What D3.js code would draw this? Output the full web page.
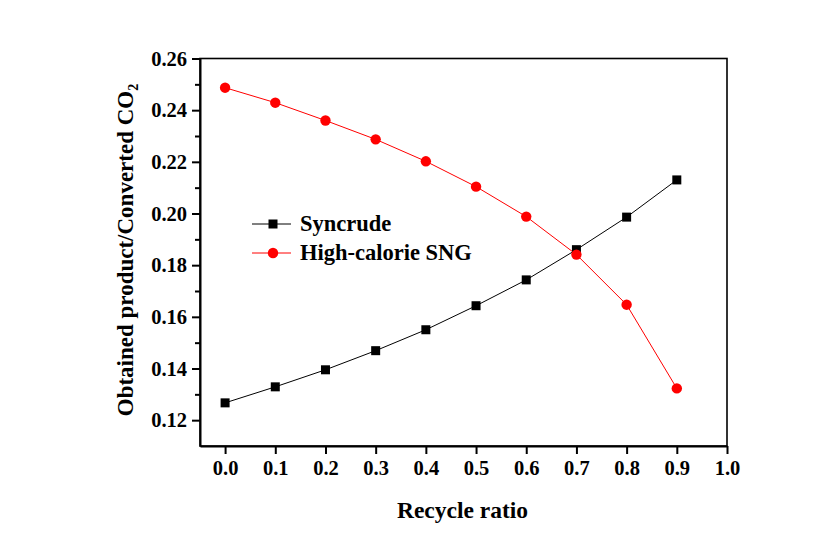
<!DOCTYPE html>
<html>
<head>
<meta charset="utf-8">
<script src="https://cdn.jsdelivr.net/npm/d3@7"></script>
<style>
  html, body { margin: 0; padding: 0; background: #fff; }
  text { font-family: "Liberation Serif", "Times New Roman", serif; font-weight: bold; fill: #000; }
</style>
</head>
<body>
<svg id="chart" width="818" height="541"></svg>
<script>
const recycleRatio = [0.0, 0.1, 0.2, 0.3, 0.4, 0.5, 0.6, 0.7, 0.8, 0.9];
const syncrude     = [0.1267, 0.1329, 0.1395, 0.1469, 0.1550, 0.1643, 0.1743, 0.1860, 0.1986, 0.2130];
const highCalorieSNG = [0.2487, 0.2429, 0.2360, 0.2287, 0.2202, 0.2104, 0.1988, 0.1841, 0.1647, 0.1323];
const xTicks = [0.0, 0.1, 0.2, 0.3, 0.4, 0.5, 0.6, 0.7, 0.8, 0.9, 1.0];
const yTicks = [0.12, 0.14, 0.16, 0.18, 0.20, 0.22, 0.24, 0.26];
const yMinorTicks = [0.13, 0.15, 0.17, 0.19, 0.21, 0.23, 0.25];
const seriesNames = ["Syncrude", "High-calorie SNG"];

(function () {
const svg = d3.select("#chart");
const pl = 200, pr = 727, pt = 58.5, pb = 446;

const x = d3.scaleLinear().domain([-0.05, 1.0]).range([pl, pr]);
const y = d3.scaleLinear().domain([0.11, 0.26]).range([pb, pt]);

// frame
svg.append("rect")
  .attr("x", pl).attr("y", pt)
  .attr("width", pr - pl).attr("height", pb - pt)
  .attr("fill", "none").attr("stroke", "#000").attr("stroke-width", 1.6);

// x axis
const xAxis = d3.axisBottom(x).tickValues(xTicks).tickFormat(d3.format(".1f"))
  .tickSize(8).tickSizeOuter(0).tickPadding(6);
const gx = svg.append("g").attr("transform", `translate(0,${pb})`).call(xAxis);
gx.select(".domain").attr("stroke-width", 2);
gx.selectAll(".tick line").attr("stroke-width", 2);
gx.selectAll(".tick text").style("font-size", "20.5px").style("font-family", "'Liberation Serif', serif").style("font-weight", "bold");

// y axis
const yAxis = d3.axisLeft(y).tickValues(yTicks).tickFormat(d3.format(".2f"))
  .tickSize(8).tickSizeOuter(0).tickPadding(5);
const gy = svg.append("g").attr("transform", `translate(${pl},0)`).call(yAxis);
gy.select(".domain").attr("stroke-width", 2);
gy.selectAll(".tick line").attr("stroke-width", 2);
gy.selectAll(".tick text").style("font-size", "20.5px").style("font-family", "'Liberation Serif', serif").style("font-weight", "bold");

// y minor ticks
const yMinor = d3.axisLeft(y).tickValues(yMinorTicks).tickFormat("").tickSize(5).tickSizeOuter(0);
const gym = svg.append("g").attr("transform", `translate(${pl},0)`).call(yMinor);
gym.select(".domain").remove();
gym.selectAll(".tick line").attr("stroke-width", 2);

// axis titles
svg.append("text")
  .attr("x", 462.5).attr("y", 518)
  .attr("text-anchor", "middle").style("font-size", "23.5px")
  .text("Recycle ratio");

const yt = svg.append("text")
  .attr("transform", `translate(133,250) rotate(-90)`)
  .attr("text-anchor", "middle").style("font-size", "23px");
yt.append("tspan").text("Obtained product/Converted CO");
yt.append("tspan").attr("dy", 5).style("font-size", "14px").text("2");

// lines
const pts = (vals) => recycleRatio.map((r, i) => [r, vals[i]]);
const line = d3.line().x(d => x(d[0])).y(d => y(d[1]));

svg.append("path").datum(pts(syncrude)).attr("d", line)
  .attr("fill", "none").attr("stroke", "#000").attr("stroke-width", 1);
svg.append("path").datum(pts(highCalorieSNG)).attr("d", line)
  .attr("fill", "none").attr("stroke", "#ff0000").attr("stroke-width", 1);

const sq = 9;
svg.append("g").selectAll("rect").data(pts(syncrude)).join("rect")
  .attr("x", d => x(d[0]) - sq / 2).attr("y", d => y(d[1]) - sq / 2)
  .attr("width", sq).attr("height", sq).attr("fill", "#000");

svg.append("g").selectAll("circle").data(pts(highCalorieSNG)).join("circle")
  .attr("cx", d => x(d[0])).attr("cy", d => y(d[1])).attr("r", 5.2)
  .attr("fill", "#ff0000");

// legend
const leg = svg.append("g");
const legRows = [
  { name: seriesNames[0], color: "#000", shape: "square", y: 224 },
  { name: seriesNames[1], color: "#ff0000", shape: "circle", y: 253 }
];
legRows.forEach(r => {
  leg.append("line").attr("x1", 252).attr("x2", 291).attr("y1", r.y).attr("y2", r.y)
    .attr("stroke", r.color).attr("stroke-width", 1);
  if (r.shape === "square") {
    leg.append("rect").attr("x", 273 - sq / 2).attr("y", r.y - sq / 2)
      .attr("width", sq).attr("height", sq).attr("fill", r.color);
  } else {
    leg.append("circle").attr("cx", 273).attr("cy", r.y).attr("r", 5.2).attr("fill", r.color);
  }
  leg.append("text").attr("x", 300).attr("y", r.y + 7).style("font-size", "22.5px").text(r.name);
});
})();
</script>
</body>
</html>
